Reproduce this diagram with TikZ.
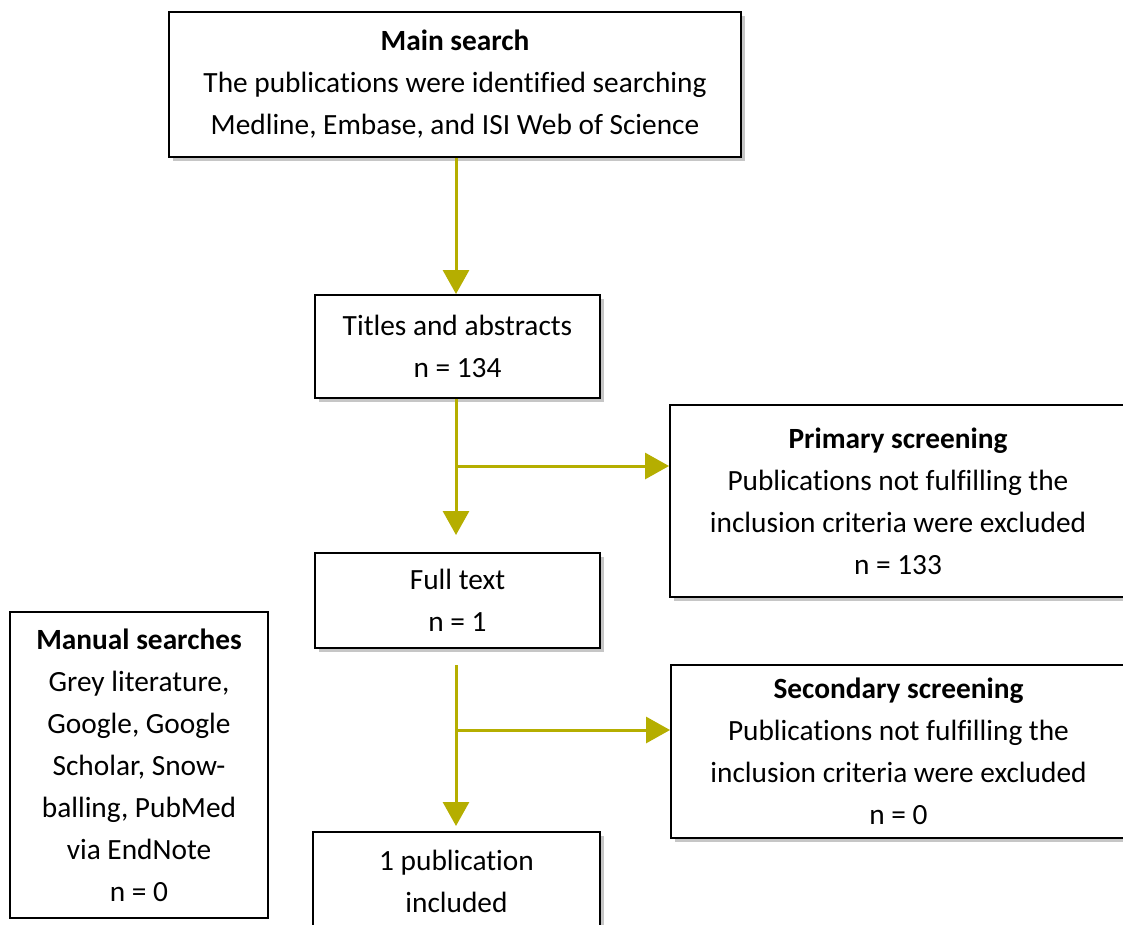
\documentclass[tikz,border=0pt]{standalone}
\usepackage{fontspec}
\setmainfont[Ligatures=NoCommon]{Carlito}
\usetikzlibrary{arrows.meta}
\usetikzlibrary{shadows}
\definecolor{olivearrow}{RGB}{181,174,0}
\newcommand{\drawarrow}{\draw[olivearrow, line width=0.06cm, -{Triangle[width=0.52cm, length=0.48cm]}]}
\tikzset{
    stepbox/.style={draw, line width=0.04cm, fill=white, align=center, inner sep=0pt,
        drop shadow={shadow xshift=0.08cm, shadow yshift=-0.08cm, opacity=0.45, fill=gray}},
    sidebox/.style={draw, line width=0.03cm, fill=white, align=center, inner sep=0pt}
}

\begin{document}
\begin{tikzpicture}[x=0.02cm, y=-0.02cm, font=\fontsize{16.7}{23.9}\selectfont]
    \useasboundingbox (0,0) rectangle (1123,924);
    \clip (0,0) rectangle (1123,924);

    % Draw boxes
    \node[stepbox, minimum width=11.44cm, minimum height=2.9cm] (main) at (455,84.5)
        {\textbf{Main search}\\The publications were identified searching\\Medline, Embase, and ISI Web of Science};
    \node[stepbox, minimum width=5.7cm, minimum height=2.06cm] (titles) at (457.5,346.5)
        {Titles and abstracts\\n = 134};
    \node[stepbox, minimum width=9.12cm, minimum height=3.84cm] (primary) at (898,501)
        {\textbf{Primary screening}\\Publications not fulfilling the\\inclusion criteria were excluded\\n = 133};
    \node[stepbox, minimum width=5.7cm, minimum height=1.9cm] (full) at (457.5,600.5)
        {Full text\\n = 1};
    \node[stepbox, minimum width=9.1cm, minimum height=3.46cm] (secondary) at (898.5,751.5)
        {\textbf{Secondary screening}\\Publications not fulfilling the\\inclusion criteria were excluded\\n = 0};
    \node[stepbox, minimum width=5.74cm, minimum height=1.96cm] (included) at (456.5,881)
        {1 publication\\included};
    \node[sidebox, minimum width=5.16cm, minimum height=6.12cm] (manual) at (139,765)
        {\textbf{Manual searches}\\Grey literature,\\Google, Google\\Scholar, Snow-\\balling, PubMed\\via EndNote\\n = 0};

    % Draw arrows
    \coordinate (b1) at (456,466);
    \coordinate (b2) at (456,730);
    \coordinate (s2) at (456,665);
    \coordinate (t2) at (456,826);

    \drawarrow (main.south -| b1) -- (titles.north -| b1);
    \drawarrow (titles.south -| b1) -- ([yshift=0.34cm]full.north -| b1);
    \drawarrow (b1) -- (primary.west |- b1);
    \drawarrow (s2) -- (t2);
    \drawarrow (b2) -- (secondary.west |- b2);
\end{tikzpicture}
\end{document}
